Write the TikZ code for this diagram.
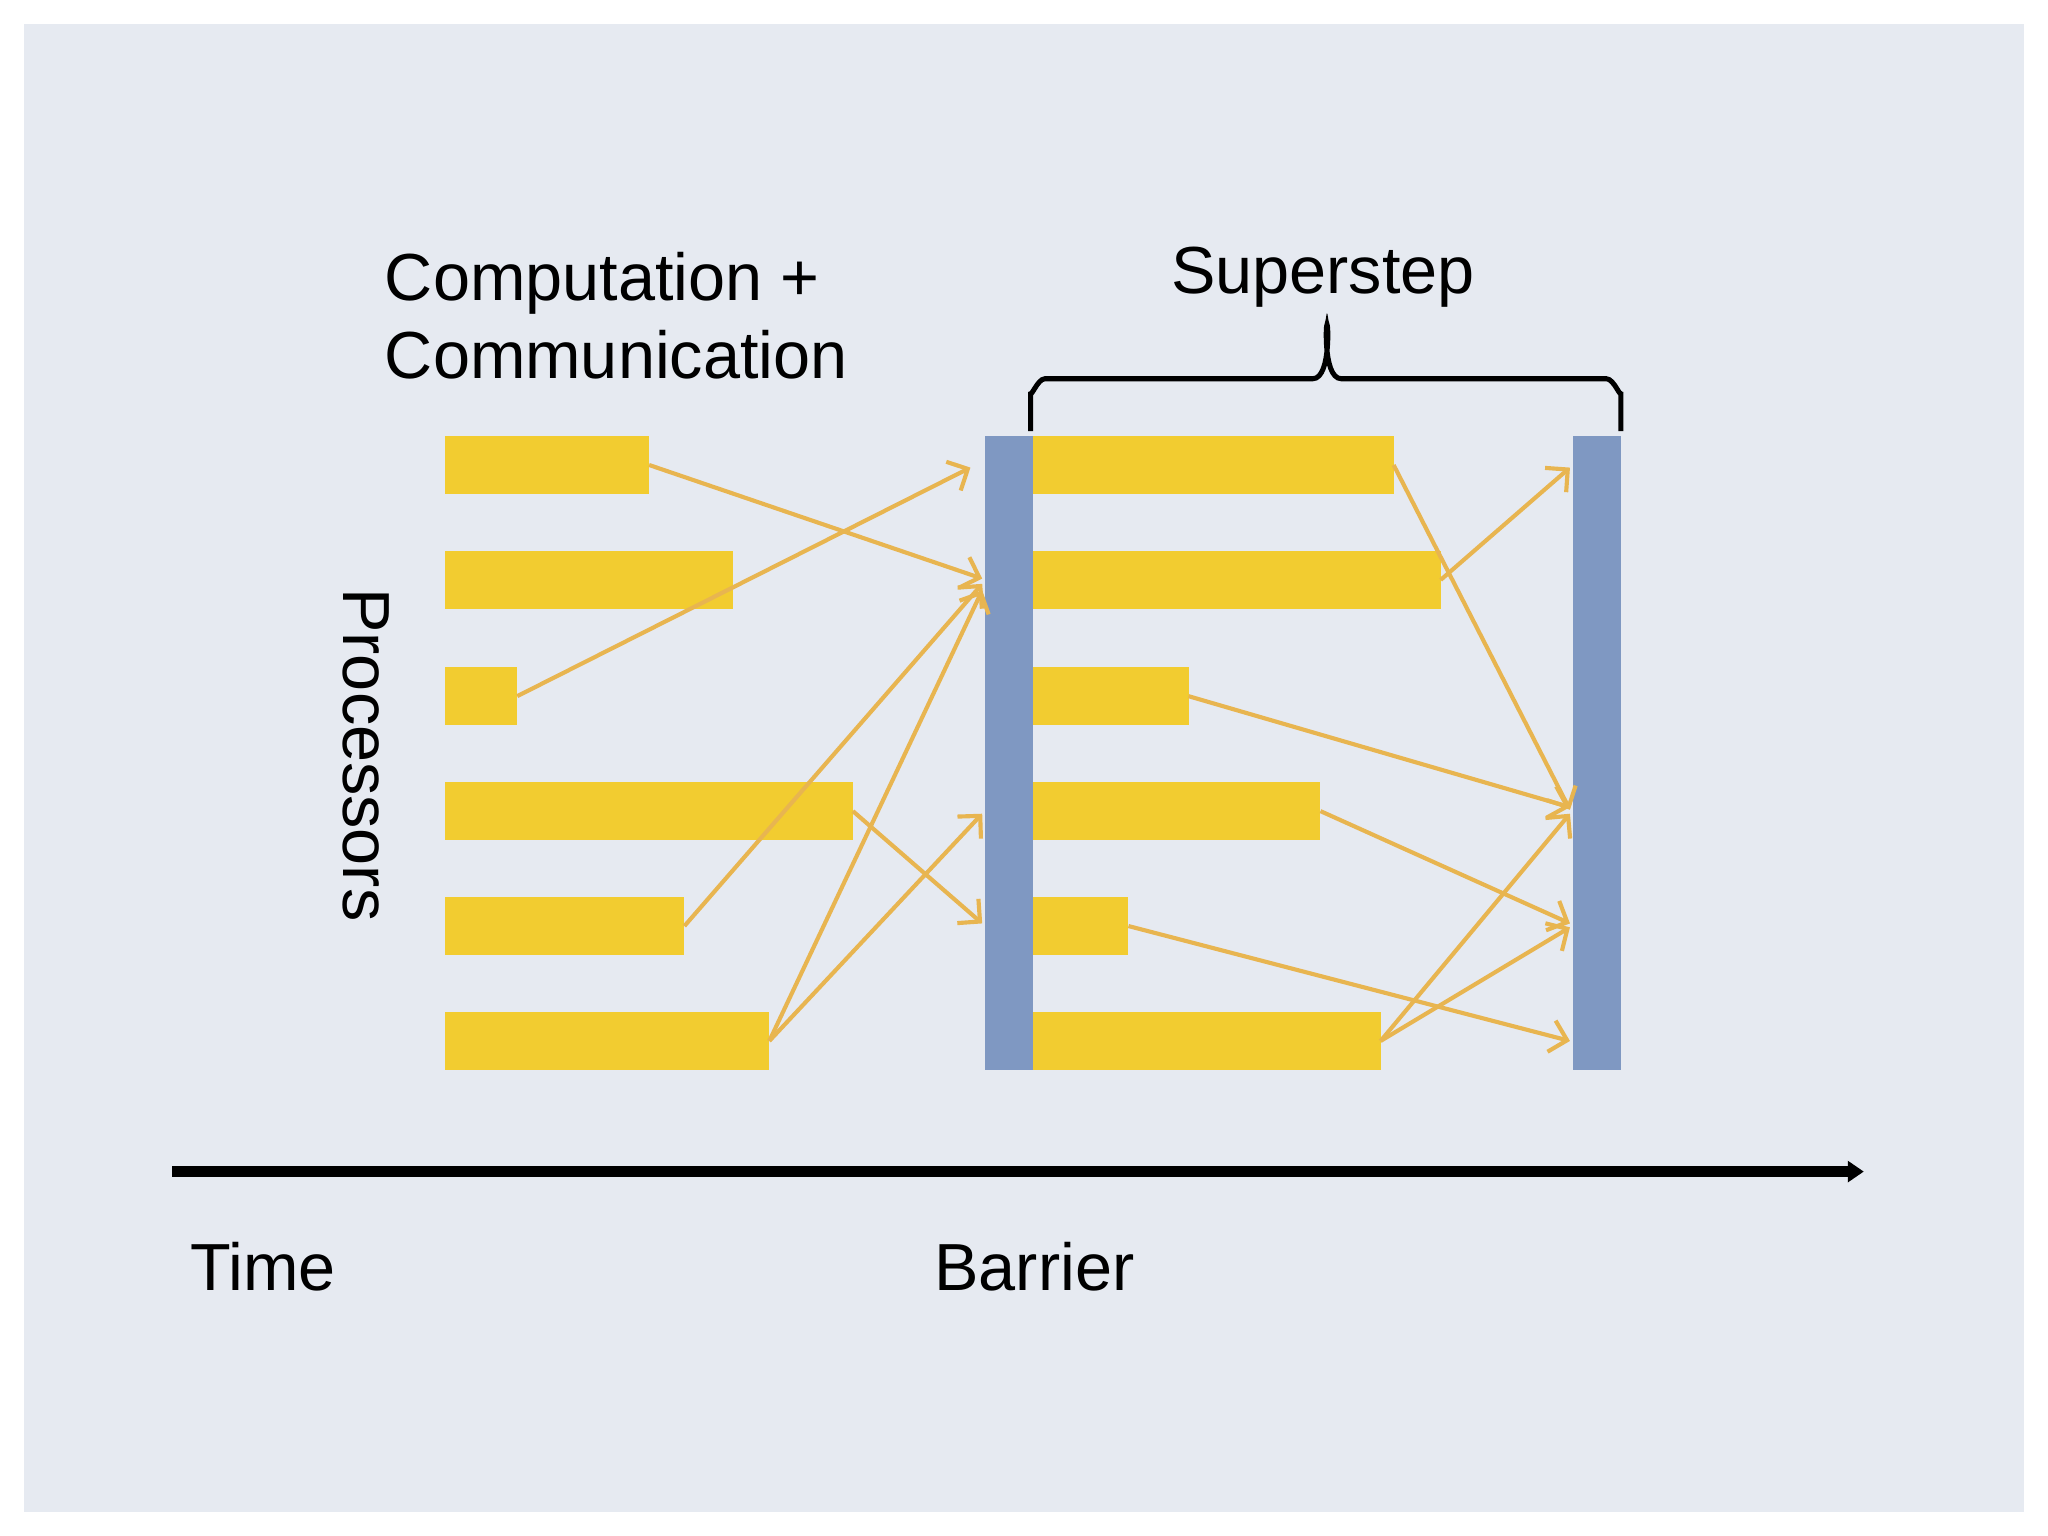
\documentclass[tikz,border=0pt]{standalone}
\usepackage{fontspec}
\setmainfont{Liberation Sans}
\usetikzlibrary{arrows.meta}
\definecolor{bg}{HTML}{E6EAF1}
\definecolor{bar}{HTML}{F2CC30}
\definecolor{barr}{HTML}{7F98C2}
\definecolor{arr}{HTML}{E8B550}
\begin{document}
\begin{tikzpicture}[x=0.01cm,y=-0.01cm,
  blk/.style={fill=bar,draw=none,inner sep=0,outer sep=0,anchor=north west,minimum height=0.44cm},
  wall/.style={fill=barr,draw=none,inner sep=0,outer sep=0,anchor=north west,minimum width=0.37cm,minimum height=4.85cm},
  msg/.style={draw=arr,line width=0.9pt,-{Straight Barb[length=3.5pt,width=7pt]}},
  lbl/.style={font=\fontsize{14.5}{17}\selectfont,inner sep=0}]
\useasboundingbox (0,0) rectangle (1568,1176);
\fill[bg] (18,18) rectangle (1550,1158);
% left bars
\foreach \n/\y/\e in {1/334/497,2/422/561,3/511/396,4/599/653,5/687/524,6/775/589}
  \node[blk,minimum width={(\e-341)*0.01cm}] (L\n) at (341,\y) {};
\node[wall] (B1) at (754,334) {};
\foreach \n/\y/\e in {1/334/1067,2/422/1103,3/511/910,4/599/1011,5/687/864,6/775/1057}
  \node[blk,minimum width={(\e-791)*0.01cm}] (M\n) at (791,\y) {};
\node[wall] (B2) at (1204,334) {};
% coordinates on barriers
\coordinate (a1) at (752,443); \coordinate (a2) at (743,358);
\coordinate (a3) at (752,447); \coordinate (a4) at (752,452);
\coordinate (a5) at (752,623); \coordinate (a6) at (752,707);
\coordinate (b1) at (1202,620); \coordinate (b2) at (1202,358);
\coordinate (b3) at (1202,618); \coordinate (b4) at (1202,707);
\coordinate (b5) at (1202,797); \coordinate (b6) at (1202,623);
\coordinate (b7) at (1202,710);
\draw[msg] (L1.east) -- (a1);
\draw[msg] (L3.east) -- (a2);
\draw[msg] (L5.east) -- (a3);
\draw[msg] (L6.east) -- (a4);
\draw[msg] (L6.east) -- (a5);
\draw[msg] (L4.east) -- (a6);
\draw[msg] (M1.east) -- (b1);
\draw[msg] (M2.east) -- (b2);
\draw[msg] (M3.east) -- (b3);
\draw[msg] (M4.east) -- (b4);
\draw[msg] (M5.east) -- (b5);
\draw[msg] (M6.east) -- (b6);
\draw[msg] (M6.east) -- (b7);
% brace
\draw[line width=1.1pt] (789,330) -- (789,300) to[out=-90,in=180] (800,290) -- (1005,290)
  to[out=0,in=90] (1016,252) to[out=90,in=180] (1027,290) -- (1230,290)
  to[out=0,in=-90] (1241,300) -- (1241,330);
% time axis
\coordinate (t0) at (132,897); \coordinate (t1) at (1427,897);
\draw[line width=2.4pt,-{Triangle[length=3.5pt,width=4.5pt]}] (t0) -- (t1);
% labels
\node[lbl,anchor=west,align=left] (cc) at (294,242) {Computation +\\[0pt]Communication};
\node[lbl] (ss) at (1013,212) {Superstep};
\node[lbl,rotate=-90] (pr) at (280,578) {Processors};
\node[lbl,anchor=west] (tm) at (145,970) {Time};
\node[lbl] (br) at (792,970) {Barrier};
\end{tikzpicture}
\end{document}
